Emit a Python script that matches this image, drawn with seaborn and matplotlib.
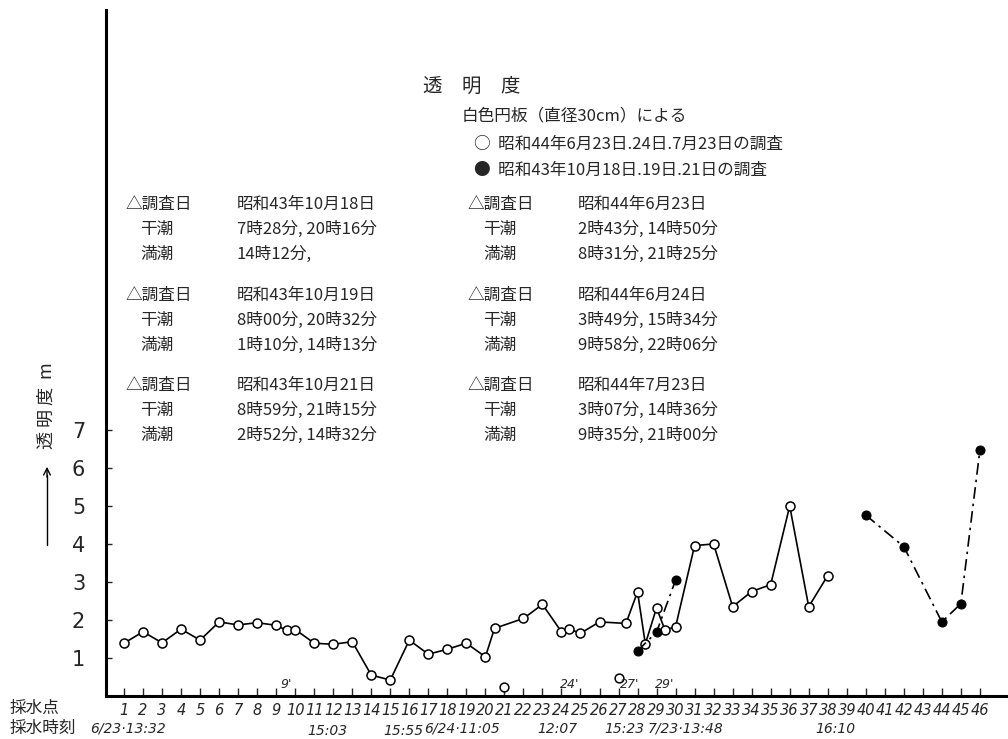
import numpy as np
import pandas as pd
import seaborn as sns
import matplotlib.pyplot as plt

# sampling point numbers (fractional ones are the primed points 9', 24', 27' ...)
open_x = [1, 2, 3, 4, 5, 6, 7, 8, 9, 9.55, 10, 11, 12, 13, 14, 15, 16, 17, 18, 19, 20,
          20.48, 22, 23, 24, 24.41, 25, 26, 27.39, 28, 28.41, 29, 29.44, 30,
          31, 32, 33, 34, 35, 36, 37, 38]
open_y = [1.39, 1.69, 1.40, 1.76, 1.47, 1.95, 1.87, 1.93, 1.86, 1.73, 1.75, 1.39, 1.36,
          1.43, 0.55, 0.42, 1.47, 1.10, 1.23, 1.39, 1.03,
          1.78, 2.04, 2.41, 1.69, 1.76, 1.65, 1.95, 1.91, 2.74, 1.37, 2.32, 1.74, 1.82,
          3.96, 4.00, 2.35, 2.75, 2.93, 5.00, 2.35, 3.17]
iso_x = [21, 27]
iso_y = [0.25, 0.47]

filled_x = [28, 29, 30, 40, 42, 44, 45, 46]
filled_y = [1.19, 1.68, 3.05, 4.76, 3.93, 1.95, 2.43, 6.47]
filled_seg = [1, 1, 1, 2, 2, 2, 2, 2]

xticks = list(range(1, 47))
yticks = [1, 2, 3, 4, 5, 6, 7]

prime_labels = ["9'", "24'", "27'", "29'"]
prime_x = [9.55, 24.41, 27.6, 29.44]

time_labels = ["6/23·13:32", "15:03", "15:55", "6/24·11:05", "12:07", "15:23", "7/23·13:48", "16:10"]
time_px = [90, 307, 383, 424, 537, 604, 648, 815]
time_py = [729, 731, 731, 729, 729, 729, 729, 729]

left_rows = [("昭和43年10月18日", "7時28分, 20時16分", "14時12分,"),
             ("昭和43年10月19日", "8時00分, 20時32分", "1時10分, 14時13分"),
             ("昭和43年10月21日", "8時59分, 21時15分", "2時52分, 14時32分")]
right_rows = [("昭和44年6月23日", "2時43分, 14時50分", "8時31分, 21時25分"),
              ("昭和44年6月24日", "3時49分, 15時34分", "9時58分, 22時06分"),
              ("昭和44年7月23日", "3時07分, 14時36分", "9時35分, 21時00分")]

sns.set_theme(style="white")
plt.rcParams['font.family'] = ['Noto Sans CJK JP', 'DejaVu Sans']
JP = ['Noto Sans CJK JP', 'DejaVu Sans']

W, H = 1008, 739
fig = plt.figure(figsize=(W / 100, H / 100), dpi=100)
ax = fig.add_axes([106 / W, 43 / H, (W - 106) / W, 686 / H])


def ftext(px, py, s, **kw):
    fig.text(px / W, 1 - py / H, s, va='center', **kw)


open_df = pd.DataFrame({'x': open_x, 'y': open_y})
sns.lineplot(data=open_df, x='x', y='y', ax=ax, color='black', lw=1.2,
             marker='o', markersize=6.5, markerfacecolor='white',
             markeredgecolor='black', markeredgewidth=1.1, zorder=3)

filled_df = pd.DataFrame({'x': filled_x, 'y': filled_y, 'seg': filled_seg})
sns.lineplot(data=filled_df, x='x', y='y', units='seg', estimator=None, ax=ax,
             color='black', lw=1.2, linestyle=(0, (7, 3, 1.5, 3)),
             marker='o', markersize=6.5, markerfacecolor='black',
             markeredgecolor='black', zorder=4)

sns.scatterplot(x=iso_x, y=iso_y, ax=ax, s=40, facecolor='white',
                edgecolor='black', linewidth=1.1, zorder=3)

for lab, px in zip(prime_labels, prime_x):
    ax.text(px, 0.12, lab, fontsize=9, style='italic', family='DejaVu Sans',
            ha='center', va='bottom')

ax.set_xlim(1 - 18 / 19.02, 1 + 884 / 19.02)
ax.set_ylim(0, 686 / 38)
ax.set_xticks(xticks)
ax.set_xticklabels([str(t) for t in xticks], fontsize=10.5, style='italic', family='DejaVu Sans')
ax.set_yticks(yticks)
ax.set_yticklabels([str(t) for t in yticks], fontsize=15, family='DejaVu Sans')
ax.tick_params(axis='x', direction='in', length=6, width=1, pad=5, bottom=True)
ax.tick_params(axis='y', direction='in', length=4, width=1, pad=15, left=True)
ax.set_xlabel('')
ax.set_ylabel('')
for side in ['top', 'right']:
    ax.spines[side].set_visible(False)
for side in ['left', 'bottom']:
    ax.spines[side].set_linewidth(2.2)
    ax.spines[side].set_color('black')

# title and legend texts
ftext(423, 86, "透　明　度", fontsize=14, family=JP)
ftext(462, 116, "白色円板（直径30cm）による", fontsize=12, family=JP)
ftext(474, 144, "○  昭和44年6月23日.24日.7月23日の調査", fontsize=12, family=JP)
ftext(474, 170, "●  昭和43年10月18日.19日.21日の調査", fontsize=12, family=JP)

# survey tables
block_y = [204, 295, 385]
for rows, lx, vx in [(left_rows, 125, 237), (right_rows, 468, 578)]:
    for (date, low, high), by in zip(rows, block_y):
        ftext(lx, by, "△調査日", fontsize=12, family=JP)
        ftext(vx, by, date, fontsize=12, family=JP)
        ftext(lx + 15, by + 25, "干潮", fontsize=12, family=JP)
        ftext(vx, by + 25, low, fontsize=12, family=JP)
        ftext(lx + 15, by + 50, "満潮", fontsize=12, family=JP)
        ftext(vx, by + 50, high, fontsize=12, family=JP)

# y axis label with arrow
ftext(47, 406, "透 明 度  m", fontsize=13, family=JP, rotation=90, ha='center')
fig.add_artist(plt.Line2D([47 / W, 47 / W], [1 - 545 / H, 1 - 475 / H], color='black', lw=1))
ax.annotate('', xy=(47 / W, 1 - 464 / H), xytext=(47 / W, 1 - 480 / H),
            xycoords='figure fraction', textcoords='figure fraction',
            arrowprops=dict(arrowstyle='->', color='black', lw=1))

# bottom labels
ftext(10, 708, "採水点", fontsize=12, family=JP)
ftext(10, 728, "採水時刻", fontsize=12, family=JP)
for lab, px, py in zip(time_labels, time_px, time_py):
    ftext(px, py, lab, fontsize=10, style='italic', family='DejaVu Sans')

fig.savefig('out.png', dpi=100)
